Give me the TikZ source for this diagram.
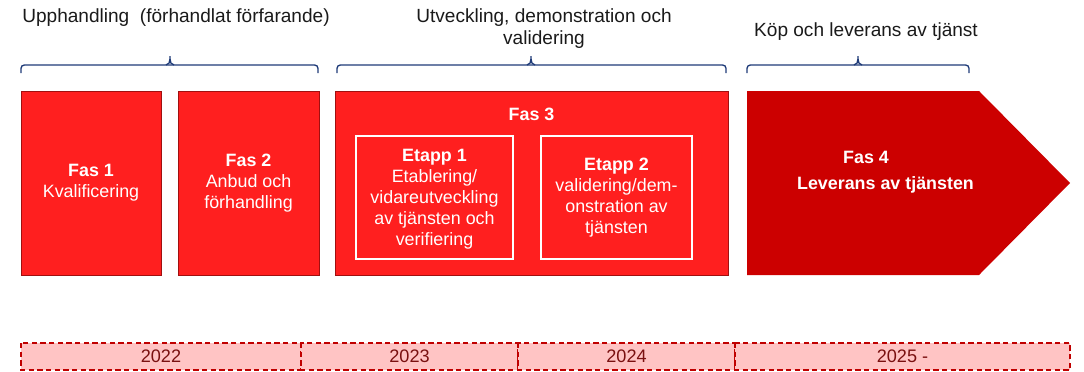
\documentclass[tikz,border=0pt]{standalone}
\usepackage{fontspec}
\setmainfont{Liberation Sans}
\definecolor{fasred}{HTML}{FF1F1F}
\definecolor{fasedge}{HTML}{A01010}
\definecolor{fasdark}{HTML}{CC0000}
\definecolor{bracecol}{HTML}{1F3B78}
\definecolor{yearfill}{HTML}{FFC4C4}
\definecolor{yearedge}{HTML}{C00000}
\definecolor{yeartext}{HTML}{7A1010}
\definecolor{labeltext}{HTML}{1A1A1A}
\tikzset{
  fasbox/.style={draw=fasedge, line width=0.6pt, fill=fasred},
  etappbox/.style={draw=white, line width=1.1pt},
  boxtext/.style={text=white, align=center, font=\fontsize{13.4}{15.75}\selectfont},
  toplabel/.style={text=labeltext, align=center, font=\fontsize{14.3}{16.5}\selectfont},
  bracepath/.style={draw=bracecol, line width=1pt, rounded corners=2.5pt},
  yearbox/.style={draw=yearedge, fill=yearfill, line width=0.9pt, dash pattern=on 4pt off 2.5pt},
  yeartxt/.style={text=yeartext, font=\fontsize{13.6}{15.75}\selectfont}
}
\begin{document}
\begin{tikzpicture}[x=0.75pt,y=-0.75pt]
\useasboundingbox (0,0) rectangle (1084,371);
% top labels
\node[toplabel] (lab1) at (176,18) {Upphandling\ \ (förhandlat förfarande)};
\node[toplabel] (lab2) at (544,29) {Utveckling, demonstration och\\validering};
\node[toplabel] (lab3) at (866,32) {Köp och leverans av tjänst};
% braces
\draw[bracepath] (21,73) -- (21,65) -- (318,65) -- (318,73);
\draw[draw=bracecol, line width=1pt] (166,65) to[out=0,in=-90] (170,59) -- (170,56);
\draw[draw=bracecol, line width=1pt] (174,65) to[out=180,in=-90] (170,59);
\draw[bracepath] (337,73) -- (337,65) -- (726,65) -- (726,73);
\draw[draw=bracecol, line width=1pt] (527,65) to[out=0,in=-90] (531,59) -- (531,56);
\draw[draw=bracecol, line width=1pt] (535,65) to[out=180,in=-90] (531,59);
\draw[bracepath] (747,73) -- (747,65) -- (969,65) -- (969,73);
\draw[draw=bracecol, line width=1pt] (854,65) to[out=0,in=-90] (858,59) -- (858,56);
\draw[draw=bracecol, line width=1pt] (862,65) to[out=180,in=-90] (858,59);
% phase boxes
\draw[fasbox] (21,91) rectangle (161,275);
\node[boxtext] (f1) at (91,183) {\textbf{Fas 1}\\Kvalificering};
\draw[fasbox] (178,91) rectangle (319,275);
\node[boxtext] (f2) at (248.5,183) {\textbf{Fas 2}\\Anbud och\\förhandling};
\draw[fasbox] (335,91) rectangle (728,275);
\node[boxtext] (f3) at (531.5,114) {\textbf{Fas 3}};
\draw[etappbox] (356,136) rectangle (513,259);
\node[boxtext] (e1) at (434.5,199) {\textbf{Etapp 1}\\Etablering/\\vidareutveckling\\av tjänsten och\\verifiering};
\draw[etappbox] (541,136) rectangle (692,259);
\node[boxtext] (e2) at (616.5,198) {\textbf{Etapp 2}\\validering/dem-\\onstration av\\tjänsten};
% phase 4 arrow
\fill[fasdark] (747,91) -- (979,91) -- (1070,183) -- (979,275) -- (747,275) -- cycle;
\node[boxtext] (f4a) at (866,157) {\textbf{Fas 4}};
\node[boxtext] (f4b) at (885.5,184.5) {\textbf{Leverans av tjänsten}};
% timeline
\draw[yearbox] (21,343) rectangle (301,370);
\draw[yearbox] (301,343) rectangle (518,370);
\draw[yearbox] (518,343) rectangle (735,370);
\draw[yearbox] (735,343) rectangle (1070,370);
\node[yeartxt] (y1) at (161,356.5) {2022};
\node[yeartxt] (y2) at (409.5,356.5) {2023};
\node[yeartxt] (y3) at (626.5,356.5) {2024};
\node[yeartxt] (y4) at (902.5,356.5) {2025 -};
\end{tikzpicture}
\end{document}
